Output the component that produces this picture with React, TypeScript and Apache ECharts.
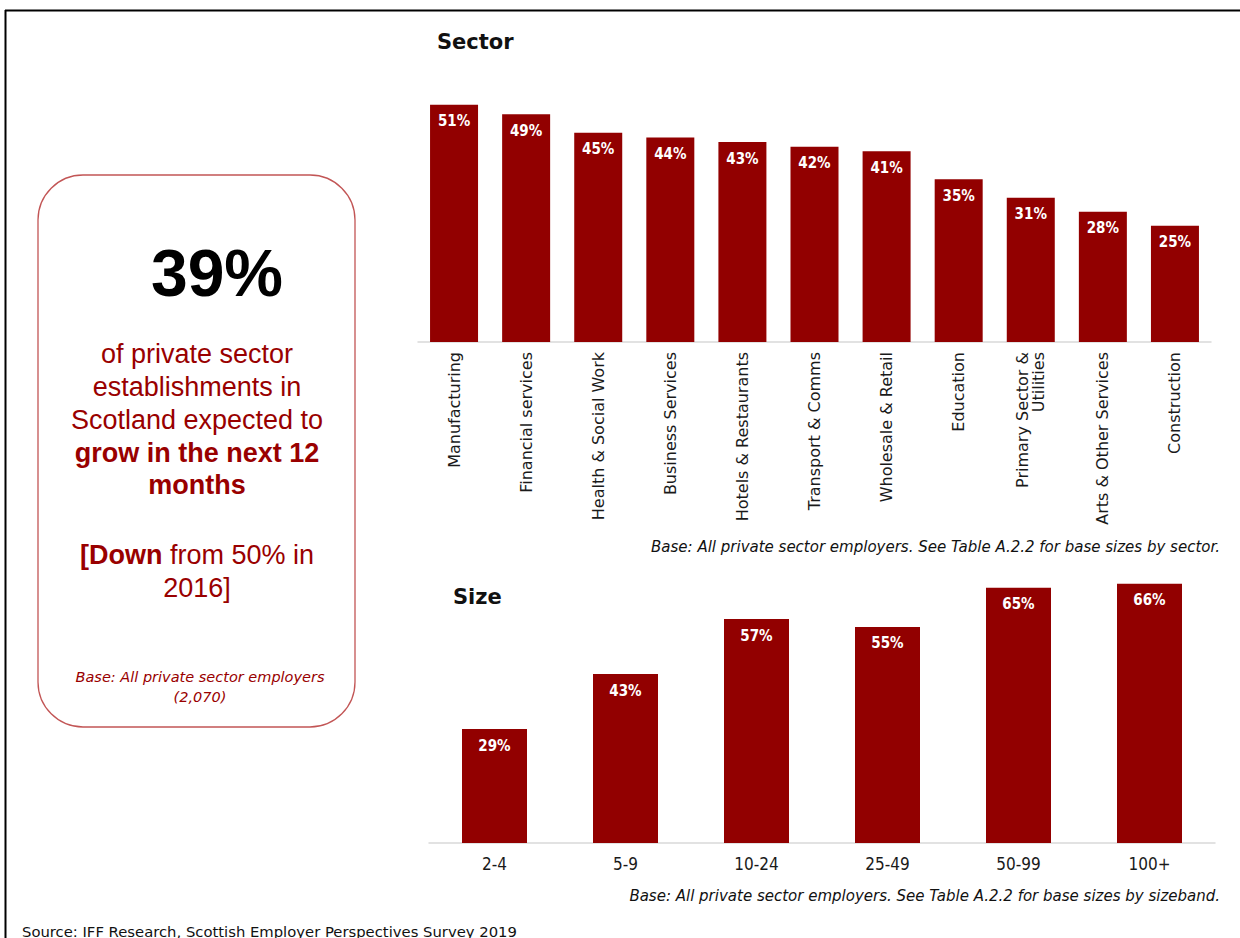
import React, { useEffect, useRef } from "react";
import * as echarts from "echarts";

const sectorCategories = [
  "Manufacturing",
  "Financial services",
  "Health & Social Work",
  "Business Services",
  "Hotels & Restaurants",
  "Transport & Comms",
  "Wholesale & Retail",
  "Education",
  "Primary Sector &\nUtilities",
  "Arts & Other Services",
  "Construction",
];
const sectorValues = [51, 49, 45, 44, 43, 42, 41, 35, 31, 28, 25];

const sizeCategories = ["2-4", "5-9", "10-24", "25-49", "50-99", "100+"];
const sizeValues = [29, 43, 57, 55, 65, 66];

const BAR = "#920000";
const RED_TEXT = "#990000";
const SANS = "'Liberation Sans', Arial, sans-serif";
const WIDE = "'DejaVu Sans', 'Liberation Sans', sans-serif";
const NARROW = "'Liberation Sans Narrow', 'DejaVu Sans Condensed', 'Liberation Sans', sans-serif";

export default function App() {
  const ref = useRef<HTMLDivElement>(null);

  useEffect(() => {
    if (!ref.current) return;
    const chart = echarts.init(ref.current, null, { renderer: "svg" });

    const barLabel = {
      show: true,
      position: "insideTop",
      distance: 9,
      formatter: "{c}%",
      color: "#ffffff",
      fontWeight: "bold",
      fontSize: 15,
      fontFamily: NARROW,
    };

    const redLine = (text: string, y: number, bold = false) => ({
      type: "text",
      x: 197,
      y,
      style: {
        text,
        fill: RED_TEXT,
        font: `${bold ? "bold " : ""}27px ${SANS}`,
        align: "center",
        verticalAlign: "middle",
      },
    });

    chart.setOption({
      animation: false,
      backgroundColor: "#ffffff",
      grid: [
        { left: 418, width: 793, top: 63, height: 279 },
        { left: 429, width: 786, top: 568, height: 275 },
      ],
      xAxis: [
        {
          type: "category",
          gridIndex: 0,
          data: sectorCategories,
          axisLine: { lineStyle: { color: "#d9d9d9", width: 1.5 } },
          axisTick: { show: false },
          axisLabel: {
            rotate: 90,
            margin: 10,
            interval: 0,
            color: "#1a1a1a",
            fontSize: 16,
            fontFamily: WIDE,
            lineHeight: 16,
          },
        },
        {
          type: "category",
          gridIndex: 1,
          data: sizeCategories,
          axisLine: { lineStyle: { color: "#d9d9d9", width: 1.5 } },
          axisTick: { show: false },
          axisLabel: {
            margin: 12,
            interval: 0,
            color: "#1a1a1a",
            fontSize: 17,
            fontFamily: NARROW,
          },
        },
      ],
      yAxis: [
        { type: "value", gridIndex: 0, min: 0, max: 60, show: false, splitLine: { show: false } },
        { type: "value", gridIndex: 1, min: 0, max: 70, show: false, splitLine: { show: false } },
      ],
      series: [
        {
          type: "bar",
          xAxisIndex: 0,
          yAxisIndex: 0,
          data: sectorValues,
          barWidth: 48,
          itemStyle: { color: BAR },
          label: barLabel,
        },
        {
          type: "bar",
          xAxisIndex: 1,
          yAxisIndex: 1,
          data: sizeValues,
          barWidth: 65,
          itemStyle: { color: BAR },
          label: barLabel,
        },
      ],
      graphic: [
        // outer border (top & left)
        { type: "line", shape: { x1: 5, y1: 10.5, x2: 1240, y2: 10.5 }, style: { stroke: "#000", lineWidth: 2 } },
        { type: "line", shape: { x1: 5.5, y1: 10, x2: 5.5, y2: 938 }, style: { stroke: "#000", lineWidth: 2 } },
        // titles
        {
          type: "text",
          x: 437,
          y: 42,
          style: { text: "Sector", fill: "#111", font: `bold 21px ${WIDE}`, verticalAlign: "middle" },
        },
        {
          type: "text",
          x: 453,
          y: 597,
          style: { text: "Size", fill: "#111", font: `bold 21px ${WIDE}`, verticalAlign: "middle" },
        },
        // footnotes
        {
          type: "text",
          x: 1220,
          y: 547,
          style: {
            text: "Base: All private sector employers. See Table A.2.2 for base sizes by sector.",
            fill: "#111",
            font: `oblique 15px ${WIDE}`,
            align: "right",
            verticalAlign: "middle",
          },
        },
        {
          type: "text",
          x: 1220,
          y: 896,
          style: {
            text: "Base: All private sector employers. See Table A.2.2 for base sizes by sizeband.",
            fill: "#111",
            font: `oblique 15px ${WIDE}`,
            align: "right",
            verticalAlign: "middle",
          },
        },
        {
          type: "text",
          x: 22,
          y: 931,
          style: {
            text: "Source: IFF Research, Scottish Employer Perspectives Survey 2019",
            fill: "#111",
            font: `14.8px ${WIDE}`,
            verticalAlign: "middle",
          },
        },
        // left box
        {
          type: "rect",
          shape: { x: 38, y: 175, width: 317, height: 552, r: 45 },
          style: { fill: "#fff", stroke: "#c25555", lineWidth: 1.3 },
        },
        {
          type: "text",
          x: 217,
          y: 273,
          style: {
            text: "39%",
            fill: "#000",
            font: `bold 66px ${SANS}`,
            align: "center",
            verticalAlign: "middle",
          },
        },
        redLine("of private sector", 354),
        redLine("establishments in", 387),
        redLine("Scotland expected to", 420),
        redLine("grow in the next 12", 453, true),
        redLine("months", 485, true),
        {
          type: "text",
          x: 197,
          y: 555,
          style: {
            text: "{b|[Down} from 50% in",
            fill: RED_TEXT,
            font: `27px ${SANS}`,
            align: "center",
            verticalAlign: "middle",
            rich: {
              b: { fill: RED_TEXT, font: `bold 27px ${SANS}` },
            },
          },
        },
        redLine("2016]", 588),
        {
          type: "text",
          x: 200,
          y: 677,
          style: {
            text: "Base: All private sector employers",
            fill: RED_TEXT,
            font: `oblique 14.5px ${WIDE}`,
            align: "center",
            verticalAlign: "middle",
          },
        },
        {
          type: "text",
          x: 200,
          y: 697,
          style: {
            text: "(2,070)",
            fill: RED_TEXT,
            font: `oblique 14.5px ${WIDE}`,
            align: "center",
            verticalAlign: "middle",
          },
        },
      ],
    });

    return () => chart.dispose();
  }, []);

  return (
    <div
      ref={ref}
      style={{ position: "fixed", left: 0, top: 0, width: 1240, height: 938, background: "#fff" }}
    />
  );
}
